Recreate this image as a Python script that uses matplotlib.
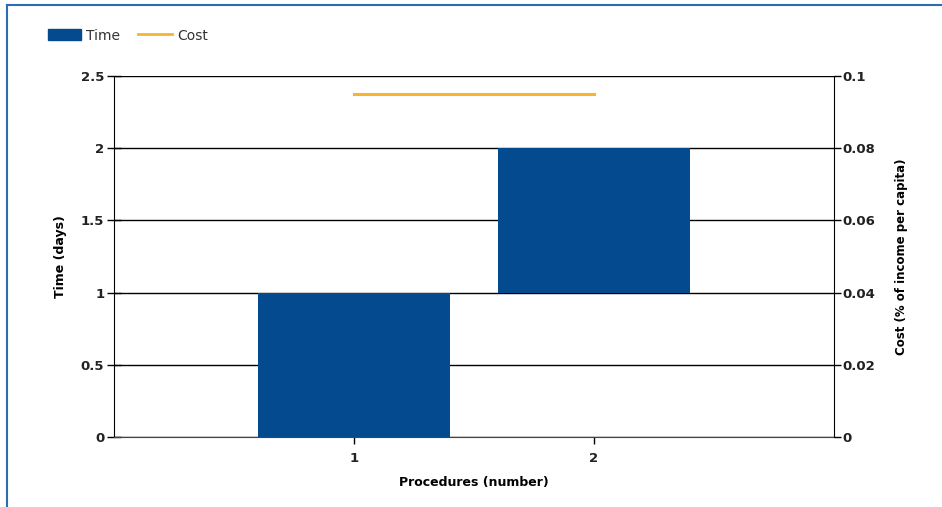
import matplotlib.pyplot as plt
from matplotlib.lines import Line2D
from matplotlib.patches import Patch

procedures = [1, 2]
time_start = [0, 1]
time_days = [1, 1]
cost_x = [1, 2]
cost_pct = [0.095, 0.095]

blue = '#034a8e'
orange = '#f5b52e'

fig = plt.figure(figsize=(9.42, 5.07), dpi=100)
ax = fig.add_axes([114/942, 1-437/507, 720/942, 361/507])
ax2 = ax.twinx()

ax.bar(procedures, time_days, bottom=time_start, width=0.8, color=blue, zorder=3)
ax2.plot(cost_x, cost_pct, color=orange, lw=2.2, zorder=4)

ax.set_xlim(0, 3)
ax.set_ylim(0, 2.5)
ax2.set_ylim(0, 0.1)
ax.set_xticks(procedures)
ax.set_yticks([0, 0.5, 1, 1.5, 2, 2.5])
ax.set_yticklabels(['0', '0.5', '1', '1.5', '2', '2.5'])
ax2.set_yticks([0, 0.02, 0.04, 0.06, 0.08, 0.1])
ax2.set_yticklabels(['0', '0.02', '0.04', '0.06', '0.08', '0.1'])

ax.grid(axis='y', color='black', lw=1, zorder=1)
ax.set_axisbelow(True)
ax.spines['top'].set_visible(False)
ax2.spines['top'].set_visible(False)
ax.spines['right'].set_visible(False)
ax2.spines['left'].set_visible(False)
ax2.spines['bottom'].set_visible(False)
ax.spines['left'].set_color('black')
ax.spines['bottom'].set_color('#444444')

ax.tick_params(axis='y', direction='inout', length=10, width=1, pad=2,
               labelsize=9.5)
ax.tick_params(axis='x', direction='out', length=5, width=1, pad=6,
               labelsize=9.5)
ax2.tick_params(axis='y', direction='out', length=5, width=1, pad=1,
                labelsize=9.5)
for lab in ax.get_yticklabels() + ax.get_xticklabels() + ax2.get_yticklabels():
    lab.set_fontweight('bold')
    lab.set_color('#222222')

ax.set_ylabel('Time (days)', fontsize=9, fontweight='bold', labelpad=10)
ax2.set_ylabel('Cost (% of income per capita)', fontsize=8.5,
               fontweight='bold', labelpad=14)
ax.set_xlabel('Procedures (number)', fontsize=9, fontweight='bold', labelpad=8)

handles = [Patch(color=blue), Line2D([], [], color=orange, lw=2)]
leg = fig.legend(handles, ['Time', 'Cost'], loc='upper left',
                 bbox_to_anchor=(35/942, 1-16/507), ncol=2, frameon=False,
                 fontsize=10, handlelength=2.4, handleheight=0.8,
                 columnspacing=1.3, handletextpad=0.4)
for t in leg.get_texts():
    t.set_color('#333333')

fig.add_artist(Line2D([7/942, 7/942], [0, 1-5/507], color='#2b6cb3', lw=1.5))
fig.add_artist(Line2D([7/942, 1], [1-5/507, 1-5/507], color='#2b6cb3', lw=1.5))

fig.savefig('out.png', dpi=100)
